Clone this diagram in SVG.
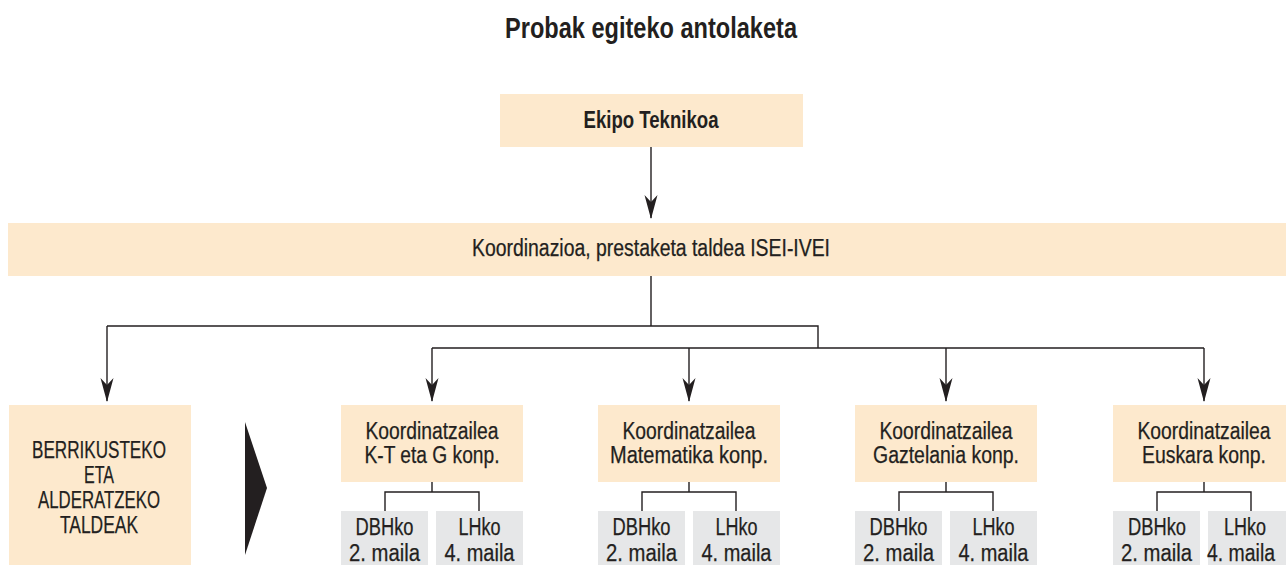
<svg xmlns="http://www.w3.org/2000/svg" width="1286" height="565" viewBox="0 0 1286 565">
  <defs>
    <style>
      text { font-family: "Liberation Sans", Arial, sans-serif; fill: #231f20; text-anchor: middle; }
      .title { font-size: 29px; font-weight: bold; }
      .bold { font-size: 23px; font-weight: bold; }
      .lbl { font-size: 23px; stroke: #231f20; stroke-width: 0.25; }
      .peach { fill: #fde9cd; }
      .grey { fill: #e6e7e8; }
      .conn { fill: none; stroke: #231f20; stroke-width: 1.4; }
      .arrow { marker-end: url(#head); }
    </style>
    <!-- notched filled arrowhead, tip at the end of the line -->
    <marker id="head" markerUnits="userSpaceOnUse" viewBox="-24 -8 26 16" markerWidth="26" markerHeight="16" refX="0" refY="0" orient="auto" overflow="visible">
      <path d="M1,0 L-23,-6.5 L-16,0 L-23,6.5 Z" fill="#231f20"/>
    </marker>
  </defs>

  <rect width="1286" height="565" fill="#ffffff"/>

  <text class="title" x="651" y="38" textLength="292" lengthAdjust="spacingAndGlyphs">Probak egiteko antolaketa</text>

  <!-- connectors -->
  <g id="connectors">
    <path class="conn arrow" d="M651,147 V218"/>
    <path class="conn" d="M651,276 V326 M107,326 H818 V348 M432,348 H1204"/>
    <path class="conn arrow" d="M107,326 V401"/>
    <path class="conn arrow" d="M432,348 V401"/>
    <path class="conn arrow" d="M689,348 V401"/>
    <path class="conn arrow" d="M946,348 V401"/>
    <path class="conn arrow" d="M1204,348 V401"/>
    <!-- small branches to the level boxes -->
    <path class="conn" d="M432,482 V492 M385,511 V492 H479 V511"/>
    <path class="conn" d="M689,482 V492 M642,511 V492 H736 V511"/>
    <path class="conn" d="M946,482 V492 M899,511 V492 H993 V511"/>
    <path class="conn" d="M1204,482 V492 M1157,511 V492 H1251 V511"/>
  </g>

  <g id="ekipo">
    <rect class="peach" x="500" y="94" width="303" height="53"/>
    <text class="bold" x="651" y="128" textLength="135" lengthAdjust="spacingAndGlyphs">Ekipo Teknikoa</text>
  </g>

  <g id="koordinazioa">
    <rect class="peach" x="8" y="223" width="1278" height="53"/>
    <text class="lbl" x="651" y="256" textLength="358" lengthAdjust="spacingAndGlyphs">Koordinazioa, prestaketa taldea ISEI-IVEI</text>
  </g>

  <g id="berrikusteko">
    <rect class="peach" x="9" y="405" width="182" height="160"/>
    <text class="lbl" x="99" y="458" textLength="134" lengthAdjust="spacingAndGlyphs">BERRIKUSTEKO</text>
    <text class="lbl" x="99" y="483" textLength="30" lengthAdjust="spacingAndGlyphs">ETA</text>
    <text class="lbl" x="99" y="508" textLength="122" lengthAdjust="spacingAndGlyphs">ALDERATZEKO</text>
    <text class="lbl" x="99" y="533" textLength="78" lengthAdjust="spacingAndGlyphs">TALDEAK</text>
  </g>

  <g id="pointer">
    <path d="M245,422 L267,488 L245,555 Z" fill="#231f20"/>
  </g>

  <g id="koord-kt">
    <rect class="peach" x="341" y="405" width="182" height="77"/>
    <text class="lbl" x="432" y="439" textLength="133" lengthAdjust="spacingAndGlyphs">Koordinatzailea</text>
    <text class="lbl" x="432" y="463" textLength="135" lengthAdjust="spacingAndGlyphs">K-T eta G konp.</text>
  </g>
  <g id="kt-dbh">
    <rect class="grey" x="341" y="511" width="87" height="54"/>
    <text class="lbl" x="384.5" y="535" textLength="58" lengthAdjust="spacingAndGlyphs">DBHko</text>
    <text class="lbl" x="384.5" y="561" textLength="71" lengthAdjust="spacingAndGlyphs">2. maila</text>
  </g>
  <g id="kt-lh">
    <rect class="grey" x="436" y="511" width="87" height="54"/>
    <text class="lbl" x="479.5" y="535" textLength="42" lengthAdjust="spacingAndGlyphs">LHko</text>
    <text class="lbl" x="479.5" y="561" textLength="70" lengthAdjust="spacingAndGlyphs">4. maila</text>
  </g>

  <g id="koord-mat">
    <rect class="peach" x="598" y="405" width="182" height="77"/>
    <text class="lbl" x="689" y="439" textLength="133" lengthAdjust="spacingAndGlyphs">Koordinatzailea</text>
    <text class="lbl" x="689" y="463" textLength="158" lengthAdjust="spacingAndGlyphs">Matematika konp.</text>
  </g>
  <g id="mat-dbh">
    <rect class="grey" x="598" y="511" width="87" height="54"/>
    <text class="lbl" x="641.5" y="535" textLength="58" lengthAdjust="spacingAndGlyphs">DBHko</text>
    <text class="lbl" x="641.5" y="561" textLength="71" lengthAdjust="spacingAndGlyphs">2. maila</text>
  </g>
  <g id="mat-lh">
    <rect class="grey" x="693" y="511" width="87" height="54"/>
    <text class="lbl" x="736.5" y="535" textLength="42" lengthAdjust="spacingAndGlyphs">LHko</text>
    <text class="lbl" x="736.5" y="561" textLength="70" lengthAdjust="spacingAndGlyphs">4. maila</text>
  </g>

  <g id="koord-gaz">
    <rect class="peach" x="855" y="405" width="182" height="77"/>
    <text class="lbl" x="946" y="439" textLength="133" lengthAdjust="spacingAndGlyphs">Koordinatzailea</text>
    <text class="lbl" x="946" y="463" textLength="146" lengthAdjust="spacingAndGlyphs">Gaztelania konp.</text>
  </g>
  <g id="gaz-dbh">
    <rect class="grey" x="855" y="511" width="87" height="54"/>
    <text class="lbl" x="898.5" y="535" textLength="58" lengthAdjust="spacingAndGlyphs">DBHko</text>
    <text class="lbl" x="898.5" y="561" textLength="71" lengthAdjust="spacingAndGlyphs">2. maila</text>
  </g>
  <g id="gaz-lh">
    <rect class="grey" x="950" y="511" width="87" height="54"/>
    <text class="lbl" x="993.5" y="535" textLength="42" lengthAdjust="spacingAndGlyphs">LHko</text>
    <text class="lbl" x="993.5" y="561" textLength="70" lengthAdjust="spacingAndGlyphs">4. maila</text>
  </g>

  <g id="koord-eus">
    <rect class="peach" x="1113" y="405" width="173" height="77"/>
    <text class="lbl" x="1204" y="439" textLength="133" lengthAdjust="spacingAndGlyphs">Koordinatzailea</text>
    <text class="lbl" x="1204" y="463" textLength="124" lengthAdjust="spacingAndGlyphs">Euskara konp.</text>
  </g>
  <g id="eus-dbh">
    <rect class="grey" x="1113" y="511" width="87" height="54"/>
    <text class="lbl" x="1157" y="535" textLength="58" lengthAdjust="spacingAndGlyphs">DBHko</text>
    <text class="lbl" x="1156.5" y="561" textLength="71" lengthAdjust="spacingAndGlyphs">2. maila</text>
  </g>
  <g id="eus-lh">
    <rect class="grey" x="1208" y="511" width="78" height="54"/>
    <text class="lbl" x="1245" y="535" textLength="42" lengthAdjust="spacingAndGlyphs">LHko</text>
    <text class="lbl" x="1241" y="561" textLength="68" lengthAdjust="spacingAndGlyphs">4. maila</text>
  </g>
</svg>
